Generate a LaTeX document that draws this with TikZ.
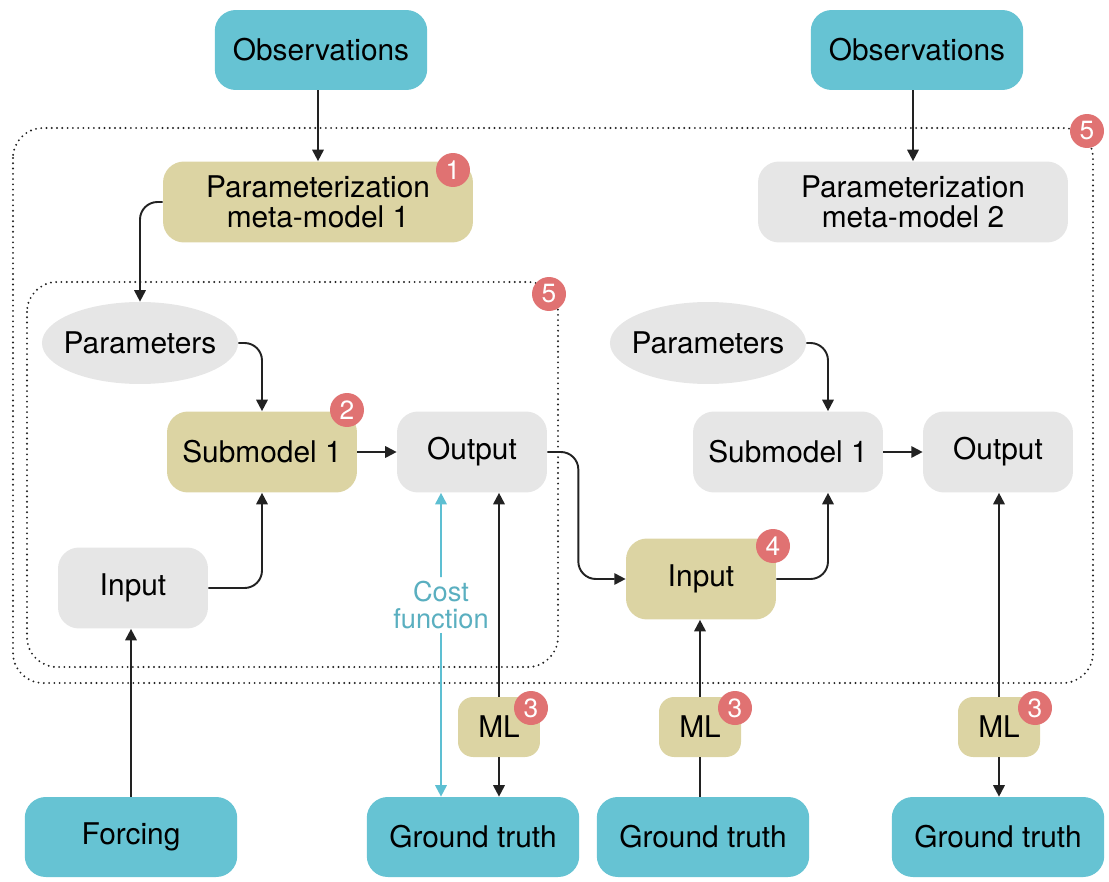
\documentclass[tikz,border=0pt]{standalone}
\usepackage{fontspec}
\setmainfont{TeX Gyre Heros}
\usetikzlibrary{arrows.meta,shapes.geometric}

\definecolor{obscol}{HTML}{66C3D3}
\definecolor{tancol}{HTML}{DCD4A3}
\definecolor{greycol}{HTML}{E6E6E6}
\definecolor{badgecol}{HTML}{E07272}
\definecolor{costcol}{HTML}{5DBFD2}
\definecolor{costtxt}{HTML}{5AAFC0}
\definecolor{linecol}{HTML}{222222}

\tikzset{
  box/.style={rectangle, rounded corners=0.42cm, inner sep=0pt, align=center,
    font=\fontsize{17}{17}\selectfont},
  obsbox/.style={box, fill=obscol, minimum width=4.25cm, minimum height=1.6cm},
  metabox/.style={box, minimum width=6.2cm, minimum height=1.62cm},
  subbox/.style={box, minimum width=3.8cm, minimum height=1.62cm},
  smallbox/.style={box, minimum width=3cm, minimum height=1.62cm},
  mlbox/.style={box, fill=tancol, rounded corners=0.3cm, minimum width=1.64cm, minimum height=1.2cm},
  parbox/.style={ellipse, fill=greycol, inner xsep=-4pt, inner ysep=0pt, minimum width=3.9cm,
    minimum height=1.64cm, font=\fontsize{17}{17}\selectfont},
  badge/.style={circle, fill=badgecol, text=white, inner sep=0pt, minimum size=0.68cm,
    font=\fontsize{15}{15}\selectfont},
  frame/.style={draw=linecol, line width=1.2pt, line cap=round, dash pattern=on 0pt off 3pt,
    rounded corners=0.6cm},
  arr/.style={draw=linecol, line width=1.1pt, -{Triangle[length=6.5pt,width=6.5pt]}},
  plain/.style={draw=linecol, line width=1.1pt},
  costarr/.style={draw=costcol, line width=1.1pt, -{Triangle[length=6.5pt,width=6.5pt]}},
}

\begin{document}
\begin{tikzpicture}[x=0.02cm,y=-0.02cm]
  \useasboundingbox (0,0) rectangle (1109,882);

  % Dotted frames
  \draw[frame] (13,128) rectangle (1093,683);
  \draw[frame] (27,282) rectangle (558,667);

  % Top row
  \node[obsbox] (obsA) at (321,50) {Observations};
  \node[obsbox] (obsB) at (917,50) {Observations};
  \node[metabox, fill=tancol] (metaA) at (318,202) {Parameterization\\meta-model 1};
  \node[metabox, fill=greycol] (metaB) at (913,202) {Parameterization\\meta-model 2};

  % Left model
  \node[parbox] (parA) at (140,343) {Parameters};
  \node[subbox, fill=tancol] (subA) at (262,452) {Submodel 1};
  \node[smallbox, fill=greycol] (outA) at (472,452) {Output};
  \node[smallbox, fill=greycol] (inA) at (133,588) {Input};

  % Right model
  \node[parbox] (parB) at (708,343) {Parameters};
  \node[subbox, fill=greycol] (subB) at (788,452) {Submodel 1};
  \node[smallbox, fill=greycol] (outB) at (998,452) {Output};
  \node[smallbox, fill=tancol] (inB) at (701,579) {Input};

  % ML boxes
  \node[mlbox] (mlA) at (499,727) {ML};
  \node[mlbox] (mlB) at (700,727) {ML};
  \node[mlbox] (mlC) at (999,727) {ML};

  % Bottom row
  \node[obsbox] (forc) at (131,837) {Forcing};
  \node[obsbox] (gtA) at (473,837) {Ground truth};
  \node[obsbox] (gtB) at (703,837) {Ground truth};
  \node[obsbox] (gtC) at (998,837) {Ground truth};

  % Cost function
  \node[align=center, fill=white, inner sep=2pt, text=costtxt,
    font=\fontsize{15.5}{15.5}\selectfont] (cost) at (441,605) {Cost\\function};
  \coordinate (costTop) at ([xshift=-0.62cm]outA.south);
  \draw[costarr] (cost.north) -- (costTop);
  \draw[costarr] (cost.south) -- (cost.south |- gtA.north);

  % Connectors
  \draw[arr] (metaA.north |- obsA.south) -- (metaA.north);
  \draw[arr] (metaB.north |- obsB.south) -- (metaB.north);
  \draw[arr, rounded corners=0.35cm] (metaA.west) -| (parA.north);
  \draw[arr, rounded corners=0.35cm] (parA.east) -| (subA.north);
  \draw[arr, rounded corners=0.35cm] (inA.east) -| (subA.south);
  \draw[arr] (subA.east) -- (outA.west);
  \draw[arr, rounded corners=0.35cm] (outA.east) -- ++(31,0) |- (inB.west);
  \draw[arr, rounded corners=0.35cm] (parB.east) -| ([xshift=0.8cm]subB.north);
  \draw[arr, rounded corners=0.35cm] (inB.east) -| ([xshift=0.8cm]subB.south);
  \draw[arr] (subB.east) -- (outB.west);
  \draw[arr] (forc.north) -- (forc.north |- inA.south);
  \draw[arr] (mlA.north) -- (mlA.north |- outA.south);
  \draw[arr] (mlA.south) -- (mlA.south |- gtA.north);
  \draw[plain] (mlB.south |- gtB.north) -- (mlB.south);
  \draw[arr] (mlB.north) -- (mlB.north |- inB.south);
  \draw[arr] (mlC.north) -- (mlC.north |- outB.south);
  \draw[arr] (mlC.south) -- (mlC.south |- gtC.north);

  % Badges
  \node[badge] (bOne) at (453,170) {1};
  \node[badge] (bTwo) at (347,410) {2};
  \node[badge] (bThreeA) at (531,708) {3};
  \node[badge] (bThreeB) at (735,708) {3};
  \node[badge] (bThreeC) at (1035,708) {3};
  \node[badge] (bFour) at (773,546) {4};
  \node[badge] (bFiveA) at (1087,131) {5};
  \node[badge] (bFiveB) at (549,294) {5};
\end{tikzpicture}
\end{document}
